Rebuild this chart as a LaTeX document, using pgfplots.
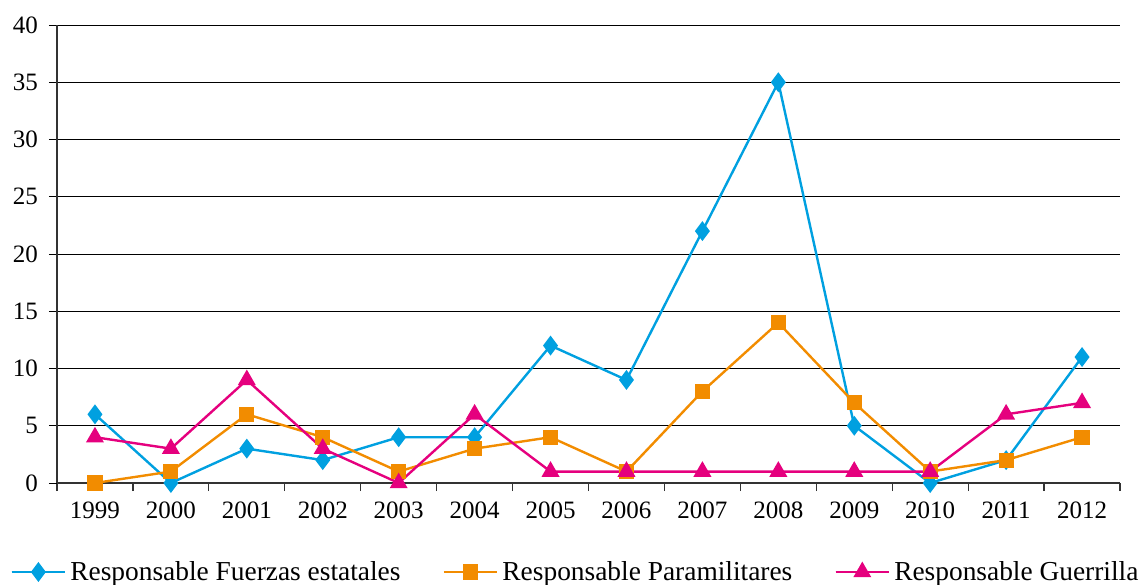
\documentclass[border=0pt]{standalone}
\usepackage{pgfplots}
\pgfplotsset{compat=1.18}
\usepackage{fontspec}
\setmainfont{Liberation Serif}
\definecolor{cblue}{HTML}{00A0E0}
\definecolor{corange}{HTML}{F28C00}
\definecolor{cmag}{HTML}{E5007E}
\begin{document}
\begin{tikzpicture}
\begin{axis}[
  name=ax,
  at={(0,0)}, anchor=south west,
  scale only axis,
  width=531.5pt, height=229pt,
  font=\fontsize{12.5}{14}\selectfont,
  /pgf/number format/assume math mode=true,
  xmin=-0.5, xmax=13.5,
  ymin=0, ymax=40,
  ytick={0,5,...,40},
  xtick={0,...,13},
  xticklabels={1999,2000,2001,2002,2003,2004,2005,2006,2007,2008,2009,2010,2011,2012},
  minor xtick={-0.5,0.5,...,13.5},
  major x tick style={draw=none},
  minor x tick style={black!80, line width=0.6pt},
  minor tick length=4pt,
  major tick length=4pt,
  tick align=outside,
  axis x line*=bottom,
  axis y line*=left,
  axis line style={black!80, line width=0.6pt},
  ymajorgrids,
  major grid style={black, line width=0.5pt},
  y tick style={black, line width=0.5pt},
  xtick pos=bottom, ytick pos=left,
  xticklabel style={yshift=-2pt},
  yticklabel style={xshift=-2pt},
  legend columns=3,
  legend style={at={(0.4887,-0.1943)}, anchor=center, draw=none, fill=none,
    /tikz/every odd column/.append style={column sep=0pt},
    /tikz/every even column/.append style={column sep=19pt},
    nodes={inner xsep=2pt},
    font=\fontsize{13.7}{15}\selectfont},
  legend image code/.code={
    \draw[#1] (0cm,0cm) -- (0.47cm,0cm);
    \draw[#1, mark repeat=2, mark phase=2] plot coordinates {(0cm,0cm) (0.47cm,0cm) (0.94cm,0cm)};
    \draw[#1] (0.47cm,0cm) -- (0.94cm,0cm);
  },
]
\addplot[cblue, line width=1.2pt, mark=diamond*, mark size=4pt] coordinates {
(0,6) (1,0) (2,3) (3,2) (4,4) (5,4) (6,12) (7,9) (8,22) (9,35) (10,5) (11,0) (12,2) (13,11)};
\addlegendentry{Responsable Fuerzas estatales}
\addplot[corange, line width=1.2pt, mark=square*, mark size=3.2pt] coordinates {
(0,0) (1,1) (2,6) (3,4) (4,1) (5,3) (6,4) (7,1) (8,8) (9,14) (10,7) (11,1) (12,2) (13,4)};
\addlegendentry{Responsable Paramilitares}
\addplot[cmag, line width=1.2pt, mark=triangle*, mark size=4pt] coordinates {
(0,4) (1,3) (2,9) (3,3) (4,0) (5,6) (6,1) (7,1) (8,1) (9,1) (10,1) (11,1) (12,6) (13,7)};
\addlegendentry{Responsable Guerrilla}
\end{axis}
\pgfresetboundingbox
\path (-28.5pt,-50.5pt) rectangle (541.5pt,241.5pt);
\end{tikzpicture}
\end{document}
